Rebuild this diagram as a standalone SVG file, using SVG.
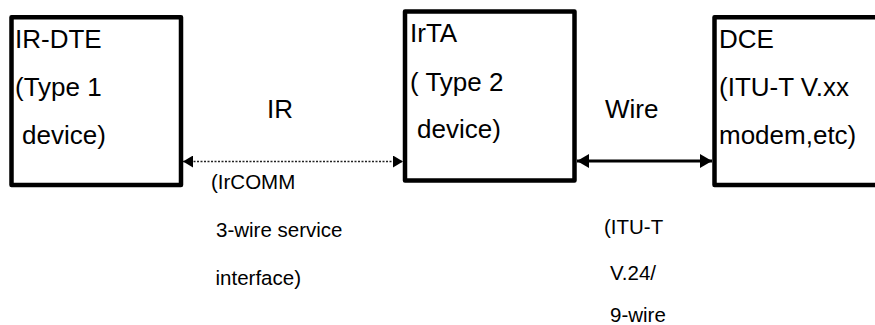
<svg xmlns="http://www.w3.org/2000/svg" width="875" height="325" viewBox="0 0 875 325">
<style>
.box{fill:#fff;stroke:#000;stroke-width:4.5;stroke-linejoin:round}
.t{font-family:"Liberation Sans",Arial,sans-serif;fill:#000}
.big{font-size:26px}
.small{font-size:20.5px}
.dot{stroke:#222;stroke-width:1.5;stroke-dasharray:2 1.5;fill:none}
.wire{stroke:#000;stroke-width:3;fill:none}
</style>
<defs>
<marker id="ahDot" markerUnits="userSpaceOnUse" viewBox="0 0 10 12" markerWidth="10" markerHeight="12" refX="10" refY="6" orient="auto-start-reverse">
<path d="M0,0 L10,6 L0,12 Z" fill="#000"/>
</marker>
<marker id="ahWire" markerUnits="userSpaceOnUse" viewBox="0 0 12 14" markerWidth="12" markerHeight="14" refX="12" refY="7" orient="auto-start-reverse">
<path d="M0,0 L12,7 L0,14 Z" fill="#000"/>
</marker>
</defs>
<rect width="875" height="325" fill="#fff"/>
<g id="node-irdte">
<rect class="box" x="11.5" y="17.3" width="169.5" height="167.7"/>
<text class="t big" x="15" y="48">IR-DTE</text>
<text class="t big" x="15" y="96">(Type 1</text>
<text class="t big" x="22" y="144">device)</text>
</g>
<g id="node-irta">
<rect class="box" x="405" y="11.5" width="169.5" height="169"/>
<text class="t big" x="410" y="42">IrTA</text>
<text class="t big" x="410" y="91">( Type 2</text>
<text class="t big" x="417" y="138">device)</text>
</g>
<g id="node-dce">
<rect class="box" x="714.5" y="17.3" width="175" height="167.7"/>
<text class="t big" x="719" y="48">DCE</text>
<text class="t big" x="719" y="96">(ITU-T V.xx</text>
<text class="t big" x="719" y="144">modem,etc)</text>
</g>
<g id="connectors">
<line class="dot" x1="183" y1="161.5" x2="403" y2="161.5" marker-start="url(#ahDot)" marker-end="url(#ahDot)"/>
<line class="wire" x1="577" y1="161" x2="712" y2="161" marker-start="url(#ahWire)" marker-end="url(#ahWire)"/>
</g>
<g id="labels">
<text class="t big" x="267" y="118">IR</text>
<text class="t big" x="605" y="118">Wire</text>
<text class="t small" x="211" y="189">(IrCOMM</text>
<text class="t small" x="216" y="237">3-wire service</text>
<text class="t small" x="215.5" y="285">interface)</text>
<text class="t small" x="604" y="234">(ITU-T</text>
<text class="t small" x="610" y="280">V.24/</text>
<text class="t small" x="610" y="322">9-wire</text>
</g>
</svg>
